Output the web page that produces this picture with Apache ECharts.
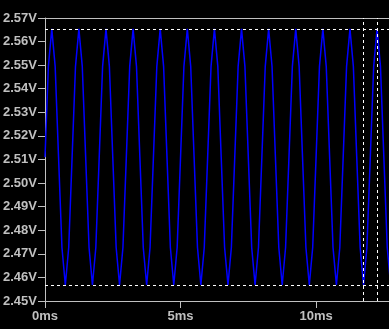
<!DOCTYPE html>
<html>
<head>
<meta charset="utf-8">
<script src="https://cdn.jsdelivr.net/npm/echarts@6/dist/echarts.min.js"></script>
<style>
html,body{margin:0;padding:0;background:#000;}
#chart{width:389px;height:329px;}
</style>
</head>
<body>
<div id="chart"></div>
<script>
// Time of each sample (ms) = index * sampleStep
const sampleStep = 0.125;
// Voltage samples (V)
const voltages = [
  2.511, 2.5495, 2.5654, 2.5495, 2.511, 2.4727, 2.4568, 2.4727,
  2.511, 2.5495, 2.5654, 2.5495, 2.511, 2.4727, 2.4568, 2.4727,
  2.511, 2.5495, 2.5654, 2.5495, 2.511, 2.4727, 2.4568, 2.4727,
  2.511, 2.5495, 2.5654, 2.5495, 2.511, 2.4727, 2.4568, 2.4727,
  2.511, 2.5495, 2.5654, 2.5495, 2.511, 2.4727, 2.4568, 2.4727,
  2.511, 2.5495, 2.5654, 2.5495, 2.511, 2.4727, 2.4568, 2.4727,
  2.511, 2.5495, 2.5654, 2.5495, 2.511, 2.4727, 2.4568, 2.4727,
  2.511, 2.5495, 2.5654, 2.5495, 2.511, 2.4727, 2.4568, 2.4727,
  2.511, 2.5495, 2.5654, 2.5495, 2.511, 2.4727, 2.4568, 2.4727,
  2.511, 2.5495, 2.5654, 2.5495, 2.511, 2.4727, 2.4568, 2.4727,
  2.511, 2.5495, 2.5654, 2.5495, 2.511, 2.4727, 2.4568, 2.4727,
  2.511, 2.5495, 2.5654, 2.5495, 2.511, 2.4727, 2.4568, 2.4727,
  2.511, 2.5495, 2.5654, 2.5495, 2.511, 2.4727, 2.4568, 2.4727,
  2.511
];
// Cursor positions
const cursorTimes = [11.75, 12.25];      // ms
const cursorLevels = [2.4568, 2.5654];   // V
// Axis ticks / ranges
const xTicks = [0, 5, 10];               // ms
const xMax = 12.69;                      // visible end of the time axis (ms)
const yMin = 2.45, yMax = 2.57, yStep = 0.01;

const seriesData = voltages.map((v, i) => [i * sampleStep, v]);
const gray = '#c0c0c0';
const font = { color: gray, fontFamily: 'Liberation Sans', fontWeight: 'bold', fontSize: 13 };

const chart = echarts.init(document.getElementById('chart'), null, { renderer: 'canvas' });
chart.setOption({
  backgroundColor: '#000000',
  animation: false,
  grid: { left: 45, top: 18, right: 0, height: 283 },
  xAxis: [{
    type: 'value', min: 0, max: xMax, interval: 5,
    axisLine: { show: true, lineStyle: { color: gray, width: 1 } },
    axisTick: { show: true, length: 7, lineStyle: { color: gray } },
    axisLabel: Object.assign({ margin: 9, showMaxLabel: false, formatter: v => (xTicks.indexOf(v) >= 0 ? v + 'ms' : '') }, font),
    splitLine: { show: false }
  }, {
    type: 'value', position: 'top', min: 0, max: xMax,
    axisLine: { show: true, lineStyle: { color: gray, width: 1 } },
    axisTick: { show: false }, axisLabel: { show: false }, splitLine: { show: false }
  }],
  yAxis: {
    type: 'value', min: yMin, max: yMax, interval: yStep,
    axisLine: { show: true, lineStyle: { color: gray, width: 1 } },
    axisTick: { show: true, length: 7, lineStyle: { color: gray } },
    axisLabel: Object.assign({ margin: 8, formatter: v => v.toFixed(2) + 'V' }, font),
    splitLine: { show: false }
  },
  series: [{
    type: 'line',
    data: seriesData,
    showSymbol: false,
    symbol: 'none',
    lineStyle: { color: '#0000ff', width: 1.5 },
    clip: true,
    markLine: {
      silent: true,
      precision: 6,
      symbol: ['none', 'none'],
      label: { show: false },
      lineStyle: { color: '#ffffff', type: [3, 3], width: 1 },
      data: cursorTimes.map(t => ({ xAxis: t })).concat(cursorLevels.map(v => ({ yAxis: v })))
    }
  }]
});
</script>
</body>
</html>
